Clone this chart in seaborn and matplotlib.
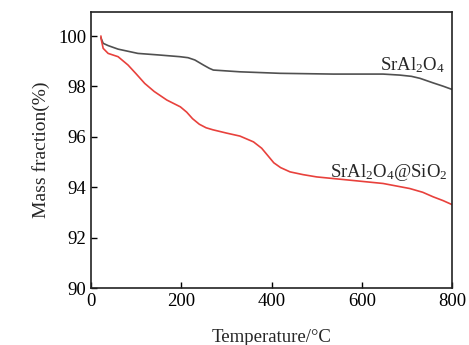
import pandas as pd
import matplotlib
matplotlib.use('Agg')
import matplotlib.pyplot as plt
import seaborn as sns

# TGA curves
temp_pure = [22, 27, 38, 60, 104, 149, 197, 215, 230, 249, 262, 271, 330, 419, 537, 647, 684, 710, 729, 758, 780, 800]
mass_pure = [99.93, 99.71, 99.62, 99.48, 99.31, 99.25, 99.18, 99.14, 99.05, 98.85, 98.72, 98.65, 98.58, 98.52, 98.49, 98.49, 98.45, 98.4, 98.32, 98.14, 98.01, 97.88]

temp_coat = [22, 23, 27, 38, 60, 82, 100, 119, 140, 168, 198, 212, 225, 240, 255, 270, 300, 330, 360, 378, 392, 405, 420, 441, 470, 500, 574, 647, 706, 735, 758, 780, 800]
mass_coat = [100.0, 99.84, 99.51, 99.31, 99.18, 98.85, 98.5, 98.12, 97.8, 97.46, 97.19, 96.98, 96.72, 96.5, 96.36, 96.28, 96.15, 96.03, 95.8, 95.55, 95.25, 94.97, 94.78, 94.61, 94.5, 94.41, 94.28, 94.15, 93.95, 93.8, 93.62, 93.47, 93.31]

x_ticks = [0, 200, 400, 600, 800]
y_ticks = [90, 92, 94, 96, 98, 100]

df = pd.concat([
    pd.DataFrame({'T': temp_pure, 'm': mass_pure, 'sample': 'pure'}),
    pd.DataFrame({'T': temp_coat, 'm': mass_coat, 'sample': 'coated'}),
])

sns.set_style('ticks')
plt.rcParams['font.family'] = ['Liberation Serif', 'DejaVu Serif']
plt.rcParams['mathtext.fontset'] = 'custom'
plt.rcParams['mathtext.rm'] = 'Liberation Serif'
plt.rcParams['mathtext.it'] = 'Liberation Serif:italic'

fig, ax = plt.subplots(figsize=(4.69, 3.45), dpi=100)
fig.subplots_adjust(left=0.194, right=0.964, top=0.965, bottom=0.165)

sns.lineplot(data=df, x='T', y='m', hue='sample', sort=False, estimator=None,
             palette={'pure': '#505050', 'coated': '#e8413c'}, linewidth=1.2,
             legend=False, ax=ax)

ax.set_xlim(0, 800)
ax.set_ylim(90, 100.95)
ax.set_xticks(x_ticks)
ax.set_yticks(y_ticks)
ax.tick_params(direction='in', labelsize=13.5, length=4, width=1, colors='black')
for s in ax.spines.values():
    s.set_linewidth(1.2)
    s.set_color('#222222')

ax.set_xlabel('Temperature/°C', fontsize=13.5, labelpad=14)
ax.set_ylabel('Mass fraction(%)', fontsize=14, labelpad=6)

ax.text(783, 98.85, r'SrAl$_2$O$_4$', ha='right', va='center', fontsize=13.5)
ax.text(790, 94.6, r'SrAl$_2$O$_4$@SiO$_2$', ha='right', va='center', fontsize=13.5)

fig.savefig('out.png', dpi=100)
